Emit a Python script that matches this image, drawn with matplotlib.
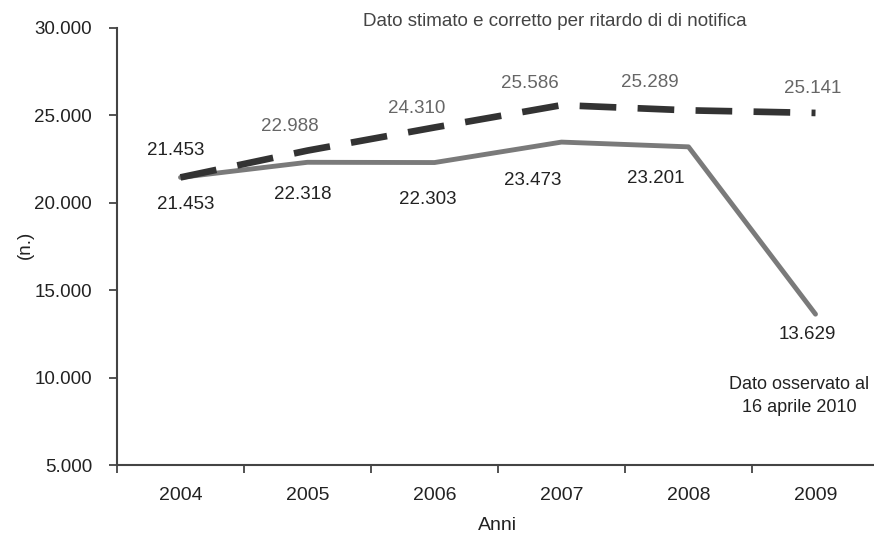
import matplotlib
matplotlib.use("Agg")
import matplotlib.pyplot as plt
from matplotlib.ticker import FuncFormatter

plt.rcParams['font.family'] = ['Liberation Sans', 'DejaVu Sans']

years = ["2004", "2005", "2006", "2007", "2008", "2009"]
estimated = [21453, 22988, 24310, 25586, 25289, 25141]
observed = [21453, 22318, 22303, 23473, 23201, 13629]
est_labels = ["21.453", "22.988", "24.310", "25.586", "25.289", "25.141"]
obs_labels = ["21.453", "22.318", "22.303", "23.473", "23.201", "13.629"]
yticks = [5000, 10000, 15000, 20000, 25000, 30000]

fig = plt.figure(figsize=(8.74, 5.35), dpi=100)
ax = fig.add_axes([117/874, 70/535, 762/874, 437/535])
x = list(range(len(years)))

ax.plot(x, observed, color='#7a7a7a', lw=3.5, solid_capstyle='round', zorder=2)
ax.plot(x, estimated, color='#333333', lw=4.8, dashes=(5.5, 3.2), zorder=3)

ax.set_xlim(-0.5, 5.5)
ax.set_ylim(5000, 30000)
ax.set_yticks(yticks)
ax.yaxis.set_major_formatter(FuncFormatter(lambda v, p: f"{int(v):,}".replace(",", ".")))
ax.set_xticks(x)
ax.set_xticklabels(years)
ax.set_xticks([i - 0.5 for i in range(len(years) + 1)], minor=True)
ax.tick_params(axis='x', which='major', length=0, pad=16, labelsize=14, colors='#222222')
ax.tick_params(axis='x', which='minor', length=6, width=1.3, color='#444444')
ax.tick_params(axis='y', which='major', length=6, width=1.3, color='#444444', labelsize=13.5, pad=12, labelcolor='#222222')

for s in ['top', 'right']:
    ax.spines[s].set_visible(False)
for s in ['left', 'bottom']:
    ax.spines[s].set_color('#444444')
    ax.spines[s].set_linewidth(1.5)

# estimated labels (above), offsets in pixels
est_off = [(-4.5, 27), (-17.5, 24.5), (-17.5, 18.5), (-31.5, 22), (-38.5, 28), (-2.5, 24)]
for i, (v, t) in enumerate(zip(estimated, est_labels)):
    col = '#222222' if i == 0 else '#666666'
    ax.annotate(t, (i, v), xytext=est_off[i], textcoords='offset pixels',
                ha='center', va='center', fontsize=13.5, color=col)

# observed labels (below)
obs_off = [(5.5, -27), (-4.5, -32), (-6.5, -37), (-28.5, -38), (-32.5, -31.5), (-8.5, -20)]
for i, (v, t) in enumerate(zip(observed, obs_labels)):
    ax.annotate(t, (i, v), xytext=obs_off[i], textcoords='offset pixels',
                ha='center', va='center', fontsize=13.5, color='#222222')

ax.annotate("Dato osservato al\n16 aprile 2010", (5, observed[5]), xytext=(-16, -82),
            textcoords='offset pixels', ha='center', va='center', fontsize=13, color='#222222',
            linespacing=1.45)

fig.text(555/874, 1 - 22/535, "Dato stimato e corretto per ritardo di di notifica",
         ha='center', va='center', fontsize=13.5, color='#444444')
fig.text(25/874, 1 - 245/535, "(n.)", rotation=90, ha='center', va='center',
         fontsize=13.5, color='#222222')
fig.text(498/874, 1 - 525/535, "Anni", ha='center', va='center',
         fontsize=14, color='#222222')

fig.savefig("out.png", dpi=100)
